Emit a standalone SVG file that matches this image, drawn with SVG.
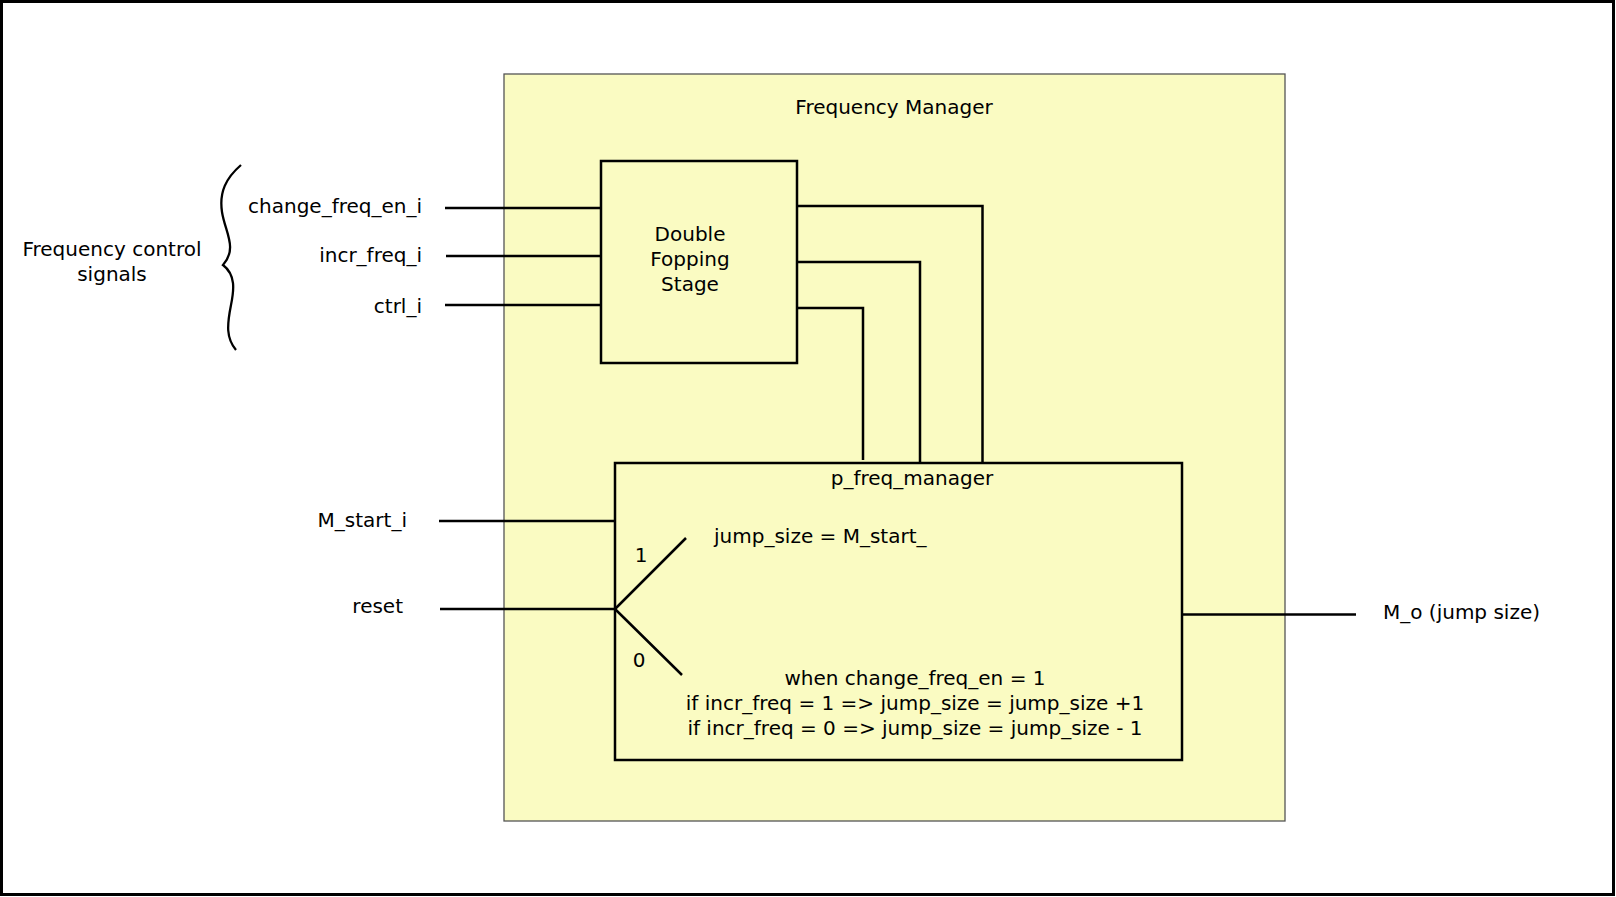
<svg xmlns="http://www.w3.org/2000/svg" width="1616" height="897" viewBox="0 0 1616 897">
<style>
text{font-family:"DejaVu Sans","Liberation Sans",sans-serif;font-size:20px;fill:#000}
.ln{stroke:#000;stroke-width:2.5;fill:none}
.box{fill:#fafbc2;stroke:#000;stroke-width:2.5}
.e{text-anchor:end}
.m{text-anchor:middle}
</style>
<rect x="1.5" y="1.5" width="1612" height="893" fill="#fff" stroke="#000" stroke-width="3"/>
<g id="frequency-manager">
<rect x="504" y="74" width="781" height="747" fill="#fafbc2" stroke="#555" stroke-width="1.3"/>
<text x="894" y="114" class="m">Frequency Manager</text>
</g>
<g id="control-signals-brace">
<path d="M241 165 C226 178 219 192 222 212 C225 232 238 248 223 265 C236 275 234 290 231 305 C227 325 226 338 236 350" fill="none" stroke="#000" stroke-width="2.3"/>
<text x="112" y="256" class="m">Frequency control</text>
<text x="112" y="281" class="m">signals</text>
</g>
<g id="inputs">
<text x="422" y="213" class="e">change_freq_en_i</text>
<text x="422" y="262" class="e">incr_freq_i</text>
<text x="422" y="313" class="e">ctrl_i</text>
<text x="407" y="527" class="e">M_start_i</text>
<text x="403" y="613" class="e">reset</text>
</g>
<g id="double-fopping-stage">
<rect x="601" y="161" width="196" height="202" class="box"/>
<text x="690" y="241" class="m">Double</text>
<text x="690" y="266" class="m">Fopping</text>
<text x="690" y="291" class="m">Stage</text>
</g>
<g id="p-freq-manager">
<rect x="615" y="463" width="567" height="297" class="box"/>
<text x="912" y="485" class="m">p_freq_manager</text>
<text x="714" y="543">jump_size = M_start_</text>
<text x="641" y="562" class="m">1</text>
<text x="639" y="667" class="m">0</text>
<text x="915" y="685" class="m">when change_freq_en = 1</text>
<text x="915" y="710" class="m">if incr_freq = 1 =&gt; jump_size = jump_size +1</text>
<text x="915" y="735" class="m">if incr_freq = 0 =&gt; jump_size = jump_size - 1</text>
<path d="M615 609 L686 538 M615 609 L682 675" class="ln"/>
</g>
<g id="output">
<text x="1383" y="619">M_o (jump size)</text>
</g>
<g id="connectors">
<path d="M445 208 H601 M446 256 H601 M445 305 H601" class="ln"/>
<path d="M439 521 H615 M440 609 H615" class="ln"/>
<path d="M797 206 H982.5 V463 M796 262 H920 V463 M797 308 H863 V460" class="ln"/>
<path d="M1182 614.5 H1356" class="ln"/>
</g>
</svg>
